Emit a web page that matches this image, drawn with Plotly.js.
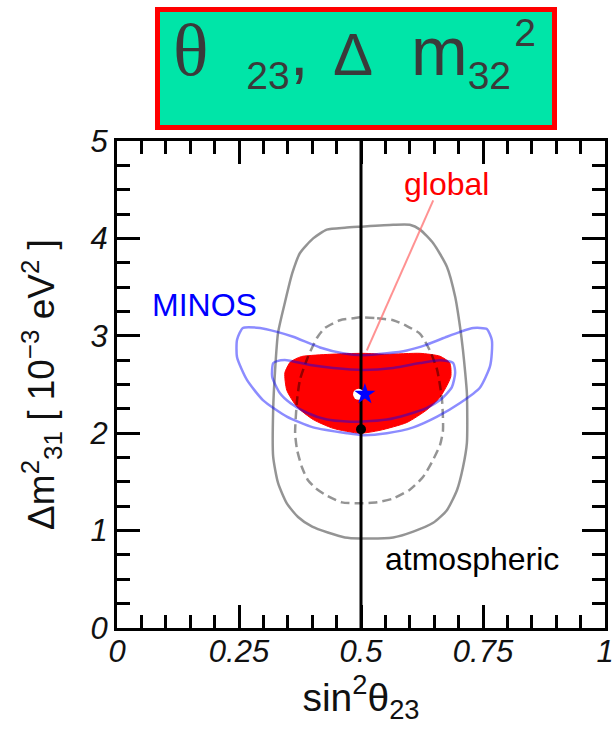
<!DOCTYPE html>
<html>
<head>
<meta charset="utf-8">
<script src="https://cdn.plot.ly/plotly-3.0.1.min.js"></script>
<style>
  html, body { margin: 0; padding: 0; background: #ffffff; }
  #chart { width: 612px; height: 736px; }
</style>
</head>
<body>
<div id="chart"></div>
<script>
// Allowed regions in the (sin^2 theta23, dm^2_31) plane.

// Atmospheric neutrinos, outer contour (solid grey)
const atmOuterX = [0.498,0.566,0.600,0.621,0.648,0.676,0.693,0.703,0.709,0.713,0.717,0.717,0.709,0.697,0.676,0.648,0.607,0.566,0.498,0.467,0.432,0.400,0.371,0.348,0.330,0.320,0.320,0.324,0.330,0.344,0.359,0.375,0.402,0.430,0.467,0.498];
const atmOuterY = [4.12,4.14,4.14,4.09,3.95,3.71,3.40,3.09,2.85,2.65,2.41,1.90,1.65,1.42,1.21,1.08,0.99,0.93,0.92,0.93,0.98,1.04,1.14,1.28,1.49,1.76,2.24,2.65,3.03,3.34,3.64,3.85,4.00,4.09,4.11,4.12];

// Atmospheric neutrinos, inner contour (dashed grey)
const atmInnerX = [0.498,0.533,0.566,0.594,0.621,0.641,0.656,0.666,0.668,0.662,0.645,0.627,0.600,0.566,0.533,0.498,0.461,0.426,0.406,0.391,0.379,0.369,0.365,0.369,0.375,0.391,0.410,0.426,0.457,0.484,0.498];
const atmInnerY = [3.19,3.18,3.16,3.10,3.02,2.85,2.65,2.34,2.03,1.88,1.70,1.55,1.42,1.33,1.29,1.28,1.29,1.37,1.44,1.52,1.65,1.83,2.00,2.34,2.55,2.78,2.98,3.08,3.16,3.18,3.19];

// MINOS, outer contour
const minosOuterX = [0.258,0.293,0.328,0.361,0.416,0.463,0.504,0.553,0.594,0.635,0.676,0.703,0.730,0.758,0.768,0.768,0.764,0.744,0.703,0.656,0.607,0.553,0.504,0.471,0.402,0.348,0.299,0.266,0.246,0.246,0.258];
const minosOuterY = [3.08,3.08,3.04,2.99,2.88,2.82,2.80,2.82,2.85,2.91,2.99,3.04,3.08,3.07,2.96,2.82,2.68,2.47,2.31,2.17,2.06,2.00,1.98,2.00,2.06,2.17,2.34,2.55,2.78,2.96,3.08];

// MINOS, inner contour
const minosInnerX = [0.328,0.348,0.396,0.443,0.504,0.566,0.621,0.662,0.689,0.693,0.686,0.662,0.635,0.594,0.553,0.504,0.471,0.430,0.389,0.355,0.334,0.318,0.320,0.328];
const minosInnerY = [2.74,2.75,2.70,2.67,2.65,2.67,2.72,2.75,2.72,2.62,2.47,2.34,2.26,2.19,2.14,2.12,2.12,2.14,2.21,2.31,2.41,2.58,2.72,2.74];

// Global fit region (filled red)
const globalX = [0.369,0.381,0.436,0.504,0.553,0.621,0.662,0.682,0.684,0.662,0.635,0.594,0.539,0.498,0.443,0.402,0.369,0.348,0.344,0.355,0.369];
const globalY = [2.77,2.79,2.81,2.82,2.81,2.82,2.79,2.72,2.58,2.37,2.24,2.11,2.03,2.00,2.05,2.14,2.27,2.44,2.62,2.73,2.77];

// Best-fit points
const minosBest = { x: [0.508], y: [2.40] };
const globalBest = { x: [0.495], y: [2.40] };
const atmBest = { x: [0.500], y: [2.04] };

// Maximal mixing line and the pointer from the "global" label
const maxMixing = 0.5;
const yRange = [0, 5];
const xRange = [0, 1];
const pointerX = [0.648, 0.512];
const pointerY = [4.39, 2.85];

// Labels
const labelText = ['MINOS', 'global', 'atmospheric'];
const labelX = [0.180, 0.676, 0.728];
const labelY = [3.32, 4.56, 0.71];
const labelColor = ['#0000ff', '#ff0000', '#000000'];

const SANS = 'Liberation Sans, Arial, Helvetica, sans-serif';
// Translucent black reads as grey on white and as dark red on the red region
const GREY = 'rgba(0,0,0,0.42)';
// Translucent blue reads as light blue on white and as purple on the red region
const BLUE = 'rgba(0,0,255,0.45)';

const traces = [
  { x: globalX, y: globalY, mode: 'lines', fill: 'toself', fillcolor: '#ff0000',
    line: { color: '#ff0000', width: 1, shape: 'spline', smoothing: 0.6 } },
  { x: atmOuterX, y: atmOuterY, mode: 'lines',
    line: { color: GREY, width: 2.5, shape: 'spline', smoothing: 0.6 } },
  { x: atmInnerX, y: atmInnerY, mode: 'lines',
    line: { color: GREY, width: 2.5, dash: '9px,5px', shape: 'spline', smoothing: 0.6 } },
  { x: minosOuterX, y: minosOuterY, mode: 'lines',
    line: { color: BLUE, width: 2.5, shape: 'spline', smoothing: 0.6 } },
  { x: minosInnerX, y: minosInnerY, mode: 'lines',
    line: { color: BLUE, width: 2.5, shape: 'spline', smoothing: 0.6 } },
  { x: pointerX, y: pointerY, mode: 'lines',
    line: { color: 'rgba(255,110,110,0.75)', width: 2 } },
  { x: [maxMixing, maxMixing], y: yRange, mode: 'lines',
    line: { color: '#000000', width: 3 } },
  { x: atmBest.x, y: atmBest.y, mode: 'markers',
    marker: { symbol: 'circle', size: 10, color: '#000000' } },
  { x: globalBest.x, y: globalBest.y, mode: 'markers',
    marker: { symbol: 'circle', size: 11, color: '#ffffff' } },
  { x: minosBest.x, y: minosBest.y, mode: 'markers',
    marker: { symbol: 'star', size: 16, color: '#0000ff' } }
];

const tickFont = { family: SANS, size: 31, color: '#111111', style: 'italic' };
const titleFont = { family: SANS, size: 39, color: '#111111' };

const labelAnnotations = labelText.map((t, i) => ({
  text: t, x: labelX[i], y: labelY[i], xref: 'x', yref: 'y',
  showarrow: false, xanchor: 'center', yanchor: 'middle',
  font: { family: SANS, size: 32, color: labelColor[i] }
}));

// Header: theta_23, Delta m^2_32 inside a framed green panel
const headerText =
  '<span style="font-family:Liberation Serif, Times New Roman, serif;font-size:74px">θ</span>' +
  '\u00a0\u00a0<sub><span style="font-size:39px">23</span></sub>,\u00a0\u200a' +
  '<span style="font-size:60px">Δ</span>\u00a0\u00a0m' +
  '<sub><span style="font-size:39px">32</span></sub>' +
  '<sup><span style="font-size:39px">\u200a2</span></sup>';

const layout = {
  width: 612, height: 736,
  margin: { l: 117, r: 7, t: 141, b: 108, pad: 0 },
  paper_bgcolor: '#ffffff', plot_bgcolor: '#ffffff',
  showlegend: false, hovermode: false,
  xaxis: {
    range: xRange, tick0: 0, dtick: 0.25,
    ticks: 'inside', ticklen: 23, tickwidth: 3, tickcolor: '#000000',
    minor: { dtick: 0.05, ticks: 'inside', ticklen: 13, tickwidth: 3, tickcolor: '#000000', showgrid: false },
    showline: true, linewidth: 3, linecolor: '#000000', mirror: 'allticks',
    showgrid: false, zeroline: false,
    tickfont: tickFont, ticklabeloverflow: 'allow', ticklabelstandoff: -6,
    title: { text: 'sin<sup>2</sup>θ<sub>23</sub>', font: titleFont, standoff: 14 }
  },
  yaxis: {
    range: yRange, tick0: 0, dtick: 1,
    ticks: 'inside', ticklen: 23, tickwidth: 3, tickcolor: '#000000',
    minor: { dtick: 0.25, ticks: 'inside', ticklen: 13, tickwidth: 3, tickcolor: '#000000', showgrid: false },
    showline: true, linewidth: 3, linecolor: '#000000', mirror: 'allticks',
    showgrid: false, zeroline: false,
    tickfont: tickFont, ticklabeloverflow: 'allow',
    title: { text: 'Δm<sup>2</sup><sub>31</sub> [ 10<sup>−3</sup> eV<sup>2</sup> ]',
             font: { family: SANS, size: 37, color: '#111111' }, standoff: 24 }
  },
  shapes: [
    { type: 'rect', xref: 'paper', yref: 'paper',
      x0: 0.08299, x1: 0.89652, y0: 1.02772, y1: 1.27002,
      fillcolor: '#00e5a8', line: { color: '#ff0000', width: 5 }, layer: 'below' }
  ],
  annotations: [
    {
      text: headerText,
      xref: 'paper', yref: 'paper', x: 0.4877, y: 1.1489,
      xanchor: 'center', yanchor: 'middle', yshift: 15, showarrow: false,
      font: { family: SANS, size: 68, color: '#3a3a3a' }
    }
  ].concat(labelAnnotations)
};

Plotly.newPlot('chart', traces, layout, { staticPlot: true, displayModeBar: false });
</script>
</body>
</html>
